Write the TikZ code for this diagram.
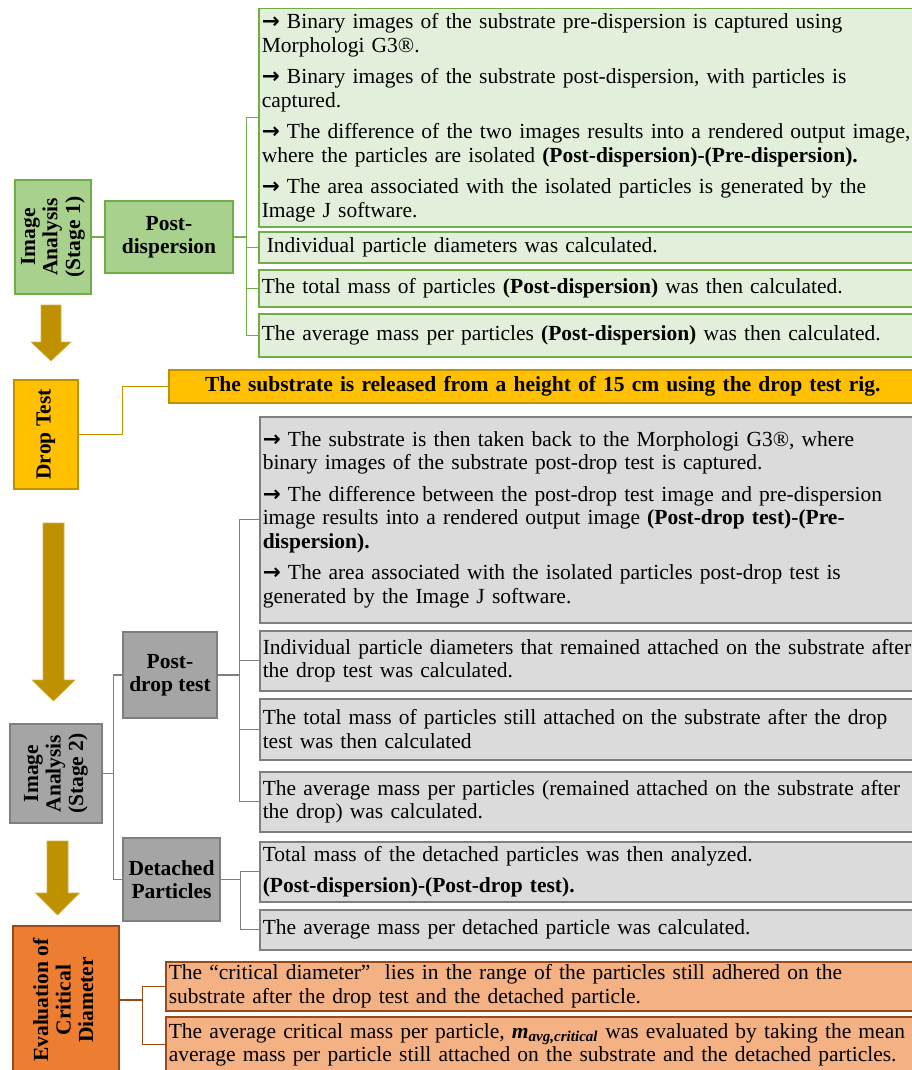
\documentclass[tikz,border=0pt]{standalone}
\usepackage{fontspec}
\setmainfont{Liberation Serif}
\newfontfamily\arrowfont{DejaVu Sans}
\usepackage{graphicx}
\usepackage{tikz}
\usetikzlibrary{positioning,calc}

\definecolor{grnhead}{HTML}{A9D18E}
\definecolor{grnline}{HTML}{70AD47}
\definecolor{grnbox}{HTML}{E2EFDA}
\definecolor{ylwhead}{HTML}{FFC000}
\definecolor{ylwline}{HTML}{BF9000}
\definecolor{gryhead}{HTML}{A5A5A5}
\definecolor{gryline}{HTML}{7F7F7F}
\definecolor{grybox}{HTML}{DBDBDB}
\definecolor{orghead}{HTML}{ED7D31}
\definecolor{orgline}{HTML}{9A4A16}
\definecolor{orgbox}{HTML}{F4B183}

\newcommand{\txtsize}{\fontsize{21.5}{23.7}\selectfont}
\newcommand{\vtext}[1]{\rotatebox{90}{\begin{tabular}{@{}c@{}}#1\end{tabular}}}
\newcommand{\bul}{{\arrowfont\bfseries →}\ }

\tikzset{
	box/.style={draw, line width=1.5pt, inner sep=3pt, font=\txtsize},
	head/.style={box, font={\fontsize{21.5}{22.5}\selectfont\bfseries}, align=center, inner sep=0pt},
	item/.style={box, anchor=north west, align=left, text width=700pt},
	gline/.style={draw=grnline, line width=1.3pt},
	yline/.style={draw=ylwline, line width=1.3pt},
	kline/.style={draw=gryline, line width=1.3pt},
	oline/.style={draw=orgline, line width=1.3pt},
	blockarrow/.style={fill=ylwline, draw=ylwline!70!white, line width=0.6pt}
}

\begin{document}
\begin{tikzpicture}[x=1pt,y=-1pt]
		\clip (0,0) rectangle (912,1070);
		% stage 1
		\node[head, fill=grnhead, draw=grnline, minimum width=76pt, minimum height=114pt] (ia1) at (53,237) {\vtext{Image\\Analysis\\(Stage 1)}};
		\node[head, fill=grnhead, draw=grnline, minimum width=128pt, minimum height=72pt] (pd) at (169,237) {Post-\\dispersion};
		\node[item, fill=grnbox, draw=grnline, minimum height=218pt] (g1) at (258,8) {%
			\bul Binary images of the substrate pre-dispersion is captured using\\
			Morphologi G3®.\\[7.5pt]
			\bul Binary images of the substrate post-dispersion, with particles is\\
			captured.\\[7.5pt]
			\bul The difference of the two images results into a rendered output image,\\
			where the particles are isolated \textbf{(Post-dispersion)-(Pre-dispersion).}\\[7.5pt]
			\bul The area associated with the isolated particles is generated by the\\
			Image J software.};
		\node[item, fill=grnbox, draw=grnline, minimum height=31pt] (g2) at (258,231) {\hspace*{5pt}Individual particle diameters was calculated.};
		\node[item, fill=grnbox, draw=grnline, minimum height=37pt] (g3) at (258,269) {The total mass of particles \textbf{(Post-dispersion)} was then calculated.};
		\node[item, fill=grnbox, draw=grnline, minimum height=43pt] (g4) at (258,313) {The average mass per particles \textbf{(Post-dispersion)} was then calculated.};
		\draw[gline] (ia1.east) -- (pd.west);
		\draw[gline] (pd.east) -- ++(13,0) coordinate (gbus);
		\foreach \n in {g1,g2,g3,g4}
			\draw[gline] (gbus) |- (\n.west);

		% drop test
		\node[head, fill=ylwhead, draw=ylwline, minimum width=64pt, minimum height=109pt] (dt) at (46,434.5) {\vtext{Drop Test}};
		\node[box, fill=ylwhead, draw=ylwline, anchor=west, font=\txtsize\bfseries, text width=748pt, align=center, inner sep=0pt, minimum height=33pt] (rig) at (168,386.5) {The substrate is released from a height of 15 cm using the drop test rig.};
		\draw[yline] (dt.east) -- ++(44,0) |- (rig.west);

		% stage 2
		\node[head, fill=gryhead, draw=gryline, minimum width=92pt, minimum height=99pt] (ia2) at (56,773.5) {\vtext{Image\\Analysis\\(Stage 2)}};
		\node[head, fill=gryhead, draw=gryline, minimum width=94pt, minimum height=86pt] (pdt) at (170,675) {Post-\\drop test};
		\node[head, fill=gryhead, draw=gryline, minimum width=97pt, minimum height=83pt] (det) at (171.5,879.5) {Detached\\Particles};
		\node[item, fill=grybox, draw=gryline, minimum height=206pt] (r1) at (259,416) {%
			\bul The substrate is then taken back to the Morphologi G3®, where\\
			binary images of the substrate post-drop test is captured.\\[7.5pt]
			\bul The difference between the post-drop test image and pre-dispersion\\
			image results into a rendered output image \textbf{(Post-drop test)-(Pre-}\\
			\textbf{dispersion).}\\[7.5pt]
			\bul The area associated with the isolated particles post-drop test is\\
			generated by the Image J software.};
		\node[item, fill=grybox, draw=gryline, minimum height=60pt] (r2) at (259,630) {Individual particle diameters that remained attached on the substrate after\\the drop test was calculated.};
		\node[item, fill=grybox, draw=gryline, minimum height=61pt] (r3) at (259,698) {The total mass of particles still attached on the substrate after the drop\\test was then calculated};
		\node[item, fill=grybox, draw=gryline, minimum height=60pt] (r4) at (259,771) {The average mass per particles (remained attached on the substrate after\\the drop) was calculated.};
		\node[item, fill=grybox, draw=gryline, minimum height=60pt] (d1) at (259,841) {Total mass of the detached particles was then analyzed.\\[7.5pt]\textbf{(Post-dispersion)-(Post-drop test).}};
		\node[item, fill=grybox, draw=gryline, minimum height=40pt] (d2) at (259,909) {The average mass per detached particle was calculated.};
		\draw[kline] (ia2.east) -- ++(11,0) coordinate (kbus);
		\draw[kline] (kbus) |- (pdt.west);
		\draw[kline] (kbus) |- (det.west);
		\draw[kline] (pdt.east) -- ++(22,0) coordinate (pbus);
		\foreach \n in {r1,r2,r3,r4}
			\draw[kline] (pbus) |- (\n.west);
		\draw[kline] (det.east) -- ++(20,0) coordinate (dbus);
		\foreach \n in {d1,d2}
			\draw[kline] (dbus) |- (\n.west);

		% critical diameter
		\node[head, fill=orghead, draw=orgline, minimum width=106pt, minimum height=148pt] (ev) at (66,1000) {\vtext{Evaluation of\\Critical\\Diameter}};
		\node[item, fill=orgbox, draw=orgline, minimum height=45pt, text width=760pt] (o1) at (165,961) {The “critical diameter”\ \ lies in the range of the particles still adhered on the\\substrate after the drop test and the detached particle.};
		\node[item, fill=orgbox, draw=orgline, minimum height=56pt, text width=760pt] (o2) at (165,1016) {The average critical mass per particle, \textbf{\textit{m}\textsubscript{\textit{avg,critical}}} was evaluated by taking the mean\\average mass per particle still attached on the substrate and the detached particles.};
		\draw[oline] (ev.east) -- ++(23,0) coordinate (obus);
		\foreach \n in {o1,o2}
			\draw[oline] (obus) |- (\n.west);

		% block arrows
		\foreach \cx/\ytop/\yhead/\ytip/\sw/\hw in {51/305/342/361/10/20, 53.5/523/680/701/10.5/21.5, 57.5/841/893/915/10.5/22}
			\filldraw[blockarrow] (\cx-\sw,\ytop) -- (\cx+\sw,\ytop) -- (\cx+\sw,\yhead) -- (\cx+\hw,\yhead) -- (\cx,\ytip) -- (\cx-\hw,\yhead) -- (\cx-\sw,\yhead) -- cycle;
\end{tikzpicture}
\end{document}
